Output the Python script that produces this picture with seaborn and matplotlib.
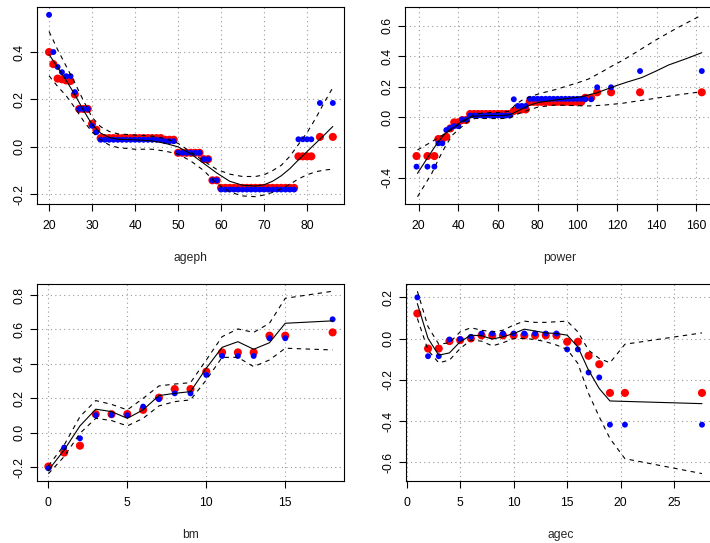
import matplotlib
matplotlib.use("Agg")
import matplotlib.pyplot as plt
import seaborn as sns

# ---------------- data ----------------
# ageph panel
ageph_x = [20, 21, 22, 23, 24, 25, 26, 27, 28, 29, 30, 31,
           32, 33, 34, 35, 36, 37, 38, 39, 40, 41, 42, 43, 44, 45, 46,
           47, 48, 49, 50, 51, 52, 53, 54, 55, 56, 57, 58, 59,
           60, 61, 62, 63, 64, 65, 66, 67, 68, 69, 70, 71, 72, 73, 74, 75, 76, 77,
           78, 79, 80, 81, 83, 86]
ageph_red = [0.400, 0.349, 0.288, 0.285, 0.280, 0.278, 0.221, 0.160, 0.160, 0.160, 0.097, 0.072,
             0.037, 0.037, 0.037, 0.037, 0.037, 0.037, 0.037, 0.037, 0.037, 0.037, 0.037, 0.037, 0.037, 0.037, 0.037,
             0.030, 0.030, 0.030, -0.025, -0.025, -0.025, -0.025, -0.025, -0.025, -0.052, -0.052, -0.141, -0.141,
             -0.173, -0.173, -0.173, -0.173, -0.173, -0.173, -0.173, -0.173, -0.173, -0.173, -0.173, -0.173,
             -0.173, -0.173, -0.173, -0.173, -0.173, -0.173,
             -0.040, -0.040, -0.040, -0.040, 0.042, 0.042]
ageph_blue = [0.557, 0.400, 0.337, 0.315, 0.298, 0.298, 0.231, 0.160, 0.160, 0.160, 0.089, 0.062,
              0.030, 0.030, 0.030, 0.030, 0.030, 0.030, 0.030, 0.030, 0.030, 0.030, 0.030, 0.030, 0.030, 0.030, 0.030,
              0.024, 0.024, 0.024, -0.025, -0.025, -0.025, -0.025, -0.025, -0.025, -0.052, -0.052, -0.141, -0.141,
              -0.180, -0.180, -0.180, -0.180, -0.180, -0.180, -0.180, -0.180, -0.180, -0.180, -0.180, -0.180,
              -0.180, -0.180, -0.180, -0.180, -0.180, -0.180,
              0.032, 0.032, 0.032, 0.032, 0.185, 0.185]
ageph_cx = [20, 22, 24, 26, 28, 30, 32, 34, 36, 40, 44, 47, 50, 53, 56, 59, 62, 65, 68, 70,
            72, 74, 76, 78, 80, 82, 84, 86]
ageph_fit = [0.390, 0.335, 0.280, 0.220, 0.155, 0.094, 0.058, 0.040, 0.032, 0.030, 0.025, 0.015,
             0.000, -0.030, -0.070, -0.110, -0.145, -0.162, -0.165, -0.160,
             -0.145, -0.122, -0.092, -0.055, -0.020, 0.015, 0.050, 0.086]
ageph_up = [0.487, 0.410, 0.340, 0.270, 0.195, 0.125, 0.085, 0.065, 0.055, 0.050, 0.045, 0.035,
            0.015, -0.022, -0.060, -0.095, -0.115, -0.125, -0.125, -0.118,
            -0.100, -0.078, -0.040, 0.010, 0.060, 0.120, 0.187, 0.250]
ageph_lo = [0.300, 0.255, 0.215, 0.165, 0.110, 0.063, 0.030, 0.008, -0.003, -0.010, -0.010, -0.018,
            -0.030, -0.060, -0.100, -0.155, -0.190, -0.207, -0.210, -0.203,
            -0.192, -0.177, -0.158, -0.135, -0.118, -0.105, -0.098, -0.094]

# power panel
power_x = [19, 24.5, 28, 30, 32, 34, 36, 38, 40, 42, 44,
           46, 48, 50, 52, 54, 56, 58, 60, 62, 64, 66,
           68, 70, 72, 74,
           76, 78, 80, 82, 84, 86, 88, 90, 92, 94, 96, 98, 100, 102,
           104, 107, 110, 117, 131.6, 162.7]
power_red = [-0.257, -0.257, -0.257, -0.145, -0.145, -0.130, -0.075, -0.035, -0.035, -0.020, -0.020,
             0.020, 0.020, 0.020, 0.020, 0.020, 0.020, 0.020, 0.020, 0.020, 0.020, 0.020,
             0.040, 0.046, 0.050, 0.050,
             0.100, 0.100, 0.100, 0.100, 0.100, 0.100, 0.100, 0.100, 0.100, 0.100, 0.100, 0.100, 0.100, 0.100,
             0.127, 0.127, 0.163, 0.163, 0.163, 0.163]
power_blue = [-0.327, -0.327, -0.327, -0.173, -0.173, -0.086, -0.072, -0.060, -0.060, -0.017, -0.017,
              0.010, 0.010, 0.010, 0.010, 0.010, 0.010, 0.010, 0.010, 0.010, 0.010, 0.010,
              0.117, 0.073, 0.073, 0.073,
              0.120, 0.120, 0.120, 0.120, 0.120, 0.120, 0.120, 0.120, 0.120, 0.120, 0.120, 0.120, 0.120, 0.120,
              0.117, 0.117, 0.196, 0.196, 0.303, 0.303]
power_cx = [19.5, 22, 25, 28, 30, 33, 36, 38.5, 41, 43, 45, 48, 55, 62, 66, 70, 75, 80, 88.8, 95,
            102.3, 110, 119, 125, 132.5, 140, 146, 155, 162.7]
power_fit = [-0.371, -0.320, -0.260, -0.200, -0.163, -0.115, -0.080, -0.064, -0.035, -0.020, -0.009,
             0.005, 0.010, 0.010, 0.015, 0.040, 0.073, 0.095, 0.112, 0.122,
             0.134, 0.160, 0.204, 0.230, 0.260, 0.305, 0.343, 0.385, 0.424]
power_ux = [19.5, 23, 26.7, 30, 35, 40, 45.2, 48, 55, 62, 66, 68.6, 72, 77, 82, 88.8, 95, 100,
            105.6, 112, 118, 122.4, 130, 139.2, 150, 162.7]
power_up = [-0.217, -0.190, -0.163, -0.135, -0.097, -0.050, -0.009, 0.020, 0.028, 0.030, 0.040,
            0.079, 0.110, 0.138, 0.158, 0.180, 0.205, 0.225, 0.250, 0.295, 0.340, 0.370,
            0.430, 0.505, 0.585, 0.672]
power_lx = [19.5, 23, 26.7, 30, 33.4, 37, 41.8, 45, 48.5, 55, 62, 66, 70, 75.4, 80, 88.8, 97,
            105.6, 113, 122.4, 130, 139.2, 150, 162.7]
power_lo = [-0.525, -0.450, -0.371, -0.280, -0.196, -0.120, -0.064, -0.030, -0.009, -0.010, -0.010,
            -0.005, 0.020, 0.046, 0.065, 0.079, 0.076, 0.073, 0.078, 0.090, 0.105, 0.123,
            0.145, 0.167]

# bm panel
bm_x = [0, 1, 2, 3, 4, 5, 6, 7, 8, 9, 10, 11, 12, 13, 14, 15, 18]
bm_red = [-0.196, -0.115, -0.075, 0.108, 0.108, 0.109, 0.133, 0.204, 0.254, 0.254,
          0.355, 0.467, 0.467, 0.467, 0.564, 0.564, 0.583]
bm_blue = [-0.206, -0.086, -0.032, 0.102, 0.104, 0.102, 0.152, 0.195, 0.229, 0.229,
           0.336, 0.446, 0.446, 0.446, 0.549, 0.549, 0.659]
bm_fit = [-0.218, -0.100, 0.040, 0.137, 0.123, 0.084, 0.133, 0.216, 0.229, 0.239,
          0.375, 0.496, 0.529, 0.485, 0.523, 0.636, 0.650]
bm_up = [-0.192, -0.071, 0.094, 0.187, 0.165, 0.133, 0.200, 0.272, 0.283, 0.291,
         0.423, 0.558, 0.603, 0.583, 0.636, 0.781, 0.822]
bm_lo = [-0.238, -0.138, -0.003, 0.084, 0.071, 0.040, 0.084, 0.156, 0.181, 0.191,
         0.307, 0.438, 0.438, 0.384, 0.423, 0.491, 0.481]

# agec panel
agec_x = [1, 2, 3, 4, 5, 6, 7, 8, 9, 10, 11, 12, 13, 14, 15, 16, 17, 18, 19, 20.4, 27.6]
agec_red = [0.122, -0.048, -0.048, -0.012, -0.007, 0.001, 0.016, 0.016, 0.016, 0.016, 0.016,
            0.016, 0.016, 0.016, -0.015, -0.015, -0.083, -0.124, -0.263, -0.263, -0.263]
agec_blue = [0.200, -0.085, -0.085, -0.004, -0.002, 0.009, 0.025, 0.025, 0.025, 0.025, 0.025,
             0.025, 0.025, 0.025, -0.052, -0.052, -0.164, -0.188, -0.417, -0.417, -0.417]
agec_cx = [1, 2, 3, 4, 5, 6, 7, 8, 9, 10, 11, 12, 13, 14, 15, 16, 17, 18, 19, 27.6]
agec_fit = [0.170, 0.001, -0.080, -0.069, -0.015, 0.017, 0.014, -0.002, 0.009, 0.025, 0.046,
            0.037, 0.028, 0.025, 0.017, -0.040, -0.153, -0.242, -0.302, -0.315]
agec_ux = [1, 2, 3, 4, 5, 6, 7, 8, 9, 10, 11, 12, 13, 14, 15, 16, 17, 18, 19, 20.4, 27.6]
agec_up = [0.230, 0.058, -0.027, -0.020, 0.033, 0.053, 0.041, 0.033, 0.041, 0.066, 0.085,
           0.079, 0.079, 0.082, 0.085, 0.033, -0.056, -0.096, -0.117, -0.027, 0.028]
agec_lo = [0.098, -0.056, -0.117, -0.104, -0.048, -0.007, -0.012, -0.035, -0.020, 0.001, 0.001,
           -0.004, -0.015, -0.031, -0.052, -0.120, -0.266, -0.379, -0.484, -0.582, -0.654]

# ticks
ageph_xt = [20, 30, 40, 50, 60, 70, 80]
ageph_yt = [-0.2, 0.0, 0.2, 0.4]
power_xt = [20, 40, 60, 80, 100, 120, 140, 160]
power_yt = [-0.4, -0.2, 0.0, 0.2, 0.4, 0.6]
power_ytl = ["-0.4", "", "0.0", "0.2", "0.4", "0.6"]
bm_xt = [0, 5, 10, 15]
bm_yt = [-0.2, 0.0, 0.2, 0.4, 0.6, 0.8]
agec_xt = [0, 5, 10, 15, 20, 25]
agec_yt = [-0.6, -0.4, -0.2, 0.0, 0.2]

# ---------------- style ----------------
sns.set_style("white")
plt.rcParams['font.family'] = ['Liberation Sans', 'DejaVu Sans']
plt.rcParams['axes.unicode_minus'] = False

W, H = 710, 543
FS = 8.7
fig = plt.figure(figsize=(W / 100, H / 100), dpi=100)
fig.patch.set_facecolor("white")


def make_ax(left, top, width, height):
    return fig.add_axes([left / W, 1 - (top + height) / H, width / W, height / H])


def fmt(v):
    return "%.1f" % v if abs(v) > 1e-9 else "0.0"


def panel(ax, x, red, blue, curves, xlim, ylim, xt, yt, ytl, xlabel):
    ax.set_facecolor("white")
    for v in xt:
        ax.axvline(v, color="#9a9a9a", lw=0.8, linestyle=(0, (1, 3)), zorder=0)
    for v in yt:
        ax.axhline(v, color="#9a9a9a", lw=0.8, linestyle=(0, (1, 3)), zorder=0)
    sns.scatterplot(x=x, y=red, color="#ff0000", s=34, edgecolor="none", linewidth=0, ax=ax, zorder=2)
    sns.scatterplot(x=x, y=blue, color="#0000ff", s=18, edgecolor="none", linewidth=0, ax=ax, zorder=3)
    for cx, cy, ls in curves:
        sns.lineplot(x=cx, y=cy, estimator=None, sort=False, color="black", lw=0.8,
                     linestyle=ls, ax=ax, zorder=4)
    ax.set_xlim(*xlim)
    ax.set_ylim(*ylim)
    ax.set_xticks(xt)
    ax.set_xticklabels([str(v) for v in xt])
    ax.set_yticks(yt)
    ax.set_yticklabels(ytl if ytl is not None else [fmt(v) for v in yt])
    for lab in ax.get_yticklabels():
        lab.set_rotation(90)
        lab.set_va("center")
    ax.tick_params(axis="both", direction="out", length=5.3, width=0.8, colors="black",
                   labelsize=FS, left=True, bottom=True)
    ax.tick_params(axis="x", pad=6.0)
    ax.tick_params(axis="y", pad=3.2)
    for sp in ax.spines.values():
        sp.set_visible(True)
        sp.set_color("black")
        sp.set_linewidth(0.8)
    ax.set_xlabel(xlabel, fontsize=FS)
    ax.set_ylabel("")
    ax.xaxis.set_label_coords(0.5, -54 / 197)
    ax.xaxis.label.set_va("center")
    ax.grid(False)


dash = (0, (4, 4))

ax1 = make_ax(37, 7, 307, 197)
panel(ax1, ageph_x, ageph_red, ageph_blue,
      [(ageph_cx, ageph_fit, "-"), (ageph_cx, ageph_up, dash), (ageph_cx, ageph_lo, dash)],
      (17.2, 88.6), (-0.241, 0.59), ageph_xt, ageph_yt, None, "ageph")

ax2 = make_ax(405.2, 7, 308.5, 197)
panel(ax2, power_x, power_red, power_blue,
      [(power_cx, power_fit, "-"), (power_ux, power_up, dash), (power_lx, power_lo, dash)],
      (13.3, 168.7), (-0.573, 0.725), power_xt, power_yt, power_ytl, "power")

ax3 = make_ax(37, 284, 307, 197)
panel(ax3, bm_x, bm_red, bm_blue,
      [(bm_x, bm_fit, "-"), (bm_x, bm_up, dash), (bm_x, bm_lo, dash)],
      (-0.72, 18.72), (-0.28, 0.864), bm_xt, bm_yt, None, "bm")

ax4 = make_ax(405.9, 284, 308.6, 197)
panel(ax4, agec_x, agec_red, agec_blue,
      [(agec_cx, agec_fit, "-"), (agec_ux, agec_up, dash), (agec_ux, agec_lo, dash)],
      (-0.07, 28.77), (-0.69, 0.265), agec_xt, agec_yt, None, "agec")

fig.savefig("out.png", dpi=100, facecolor="white")
